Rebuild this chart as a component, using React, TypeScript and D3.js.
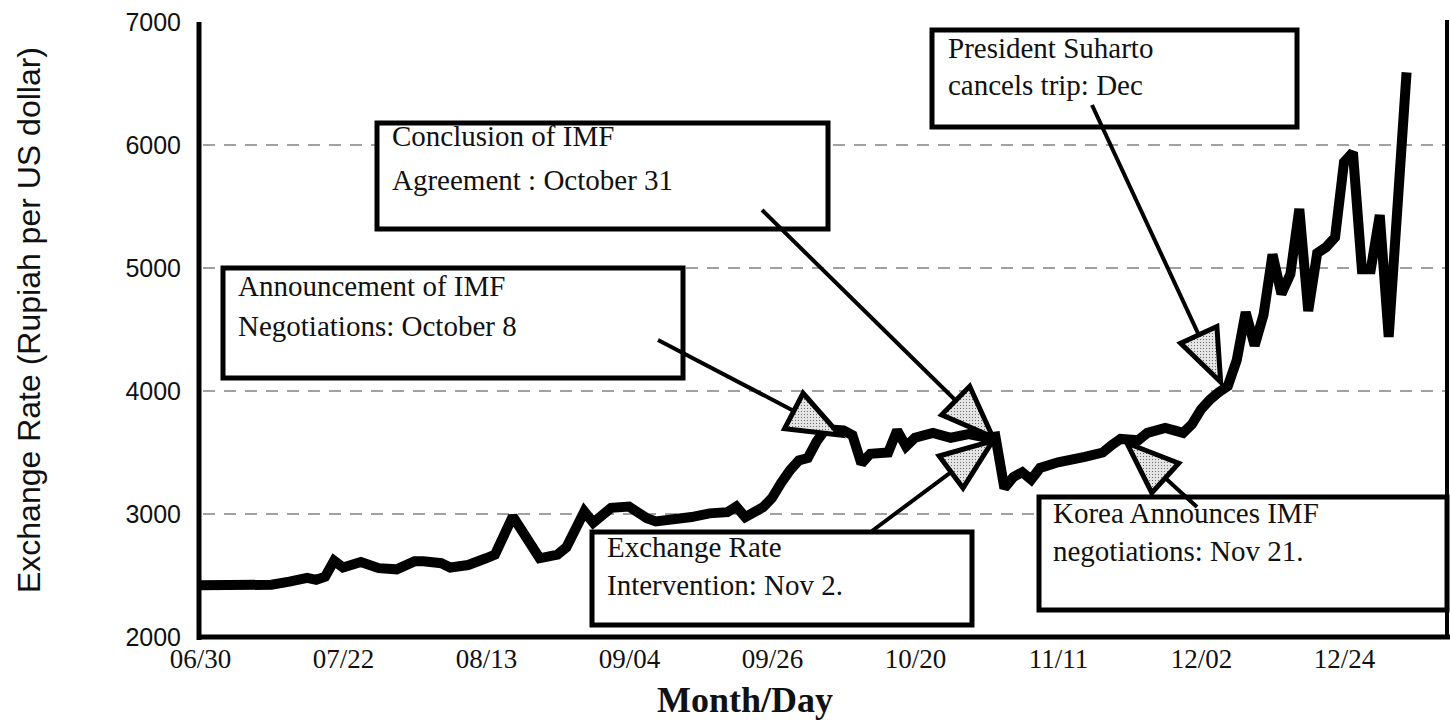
import React, { useEffect, useRef } from 'react';
import * as d3 from 'd3';

const width = 1450;
const height = 720;
const frame = { left: 200, right: 1447, top: 22, bottom: 637 };

// trading days counted from 06/30 (weekdays only), rupiah per US dollar
const tradingDay = [
  0, 8, 10, 12, 13, 14, 15, 16, 18, 20, 22, 24, 25, 27, 28, 30, 32, 33, 35, 38,
  40, 41, 43, 44, 46, 48, 50, 51, 55, 57, 59, 60, 61, 63, 64, 65, 66, 67, 68, 69,
  70, 72, 73, 74, 75, 77, 78, 79, 80, 82, 84, 86, 88, 89, 90, 91, 92, 93, 94, 96,
  99, 101, 102, 103, 105, 106, 108, 109, 110, 111, 112, 113, 114, 115, 116, 117, 118, 119, 120, 121,
  122, 123, 124, 125, 126, 127, 128, 129, 130, 131, 132, 133, 135,
];
const rate = [
  2420, 2425, 2450, 2480, 2465, 2490, 2620, 2565, 2610, 2560, 2550, 2615, 2615, 2600, 2565, 2585, 2640, 2670, 2980, 2640,
  2670, 2730, 3020, 2930, 3050, 3060, 2965, 2940, 2975, 3005, 3015, 3060, 2975, 3055, 3130, 3250, 3355, 3435, 3455, 3590,
  3690, 3680, 3640, 3410, 3490, 3500, 3680, 3550, 3620, 3660, 3620, 3650, 3620, 3630, 3210, 3300, 3340, 3280, 3375, 3420,
  3465, 3500, 3560, 3610, 3600, 3660, 3700, 3680, 3660, 3730, 3850, 3930, 3990, 4040, 4250, 4640, 4370, 4620, 5110, 4790,
  4950, 5480, 4650, 5120, 5170, 5250, 5860, 5940, 4990, 4990, 5430, 4440, 6590,
];

const tickDays = [0, 16, 32, 48, 64, 80, 96, 112, 128];
const tickLabels = ['06/30', '07/22', '08/13', '09/04', '09/26', '10/20', '11/11', '12/02', '12/24'];
const yTicks = [2000, 3000, 4000, 5000, 6000, 7000];
const gridValues = [3000, 4000, 5000, 6000];

// events, and where their arrows point (trading day, rate)
const noteText = [
  ['Announcement of IMF', 'Negotiations: October 8'],
  ['Conclusion of IMF', 'Agreement : October 31'],
  ['Exchange Rate', 'Intervention: Nov 2.'],
  ['Korea Announces IMF', 'negotiations: Nov 21.'],
  ['President Suharto', 'cancels trip: Dec'],
];
const noteTipDay = [71.6, 88.7, 88.7, 103.7, 114.2];
const noteTipRate = [3642, 3626, 3594, 3577, 4073];

// box layout in pixels
const boxes = [
  { x: 223, y: 268, w: 460, h: 110, tx: 238, ty: [296, 336], tail: [658, 340] },
  { x: 377, y: 123, w: 451, h: 106, tx: 392, ty: [146, 190], tail: [762, 210] },
  { x: 592, y: 532, w: 380, h: 93, tx: 607, ty: [557, 595], tail: [872, 531] },
  { x: 1039, y: 497, w: 408, h: 113, tx: 1053, ty: [523, 561], tail: [1197, 507] },
  { x: 932, y: 30, w: 365, h: 97, tx: 948, ty: [58, 95], tail: [1092, 105] },
];

const serif = 'Liberation Serif, Times New Roman, serif';
const sans = 'Liberation Sans, Arial, sans-serif';

export default function App() {
  const ref = useRef(null);

  useEffect(() => {
    const svg = d3.select(ref.current);
    svg.selectAll('*').remove();

    const x = d3.scaleLinear().domain([0, 128]).range([frame.left, 1344]);
    const y = d3.scaleLinear().domain([2000, 7000]).range([frame.bottom, frame.top]);

    const defs = svg.append('defs');
    const pat = defs.append('pattern').attr('id', 'stipple')
      .attr('width', 3).attr('height', 3).attr('patternUnits', 'userSpaceOnUse');
    pat.append('rect').attr('width', 3).attr('height', 3).attr('fill', '#e4e4e4');
    pat.append('rect').attr('width', 1).attr('height', 1).attr('fill', '#6a6a6a');

    // dashed gridlines
    svg.append('g').selectAll('line')
      .data(gridValues)
      .enter().append('line')
      .attr('x1', frame.left + 3).attr('x2', frame.right)
      .attr('y1', d => y(d)).attr('y2', d => y(d))
      .attr('stroke', '#444').attr('stroke-width', 1.2)
      .attr('stroke-dasharray', '12 9');

    // the exchange-rate line
    const pts = tradingDay.map((d, i) => [d, rate[i]]);
    const line = d3.line().x(d => x(d[0])).y(d => y(d[1]));
    svg.append('path')
      .attr('d', line(pts))
      .attr('fill', 'none').attr('stroke', '#000').attr('stroke-width', 10)
      .attr('stroke-linejoin', 'miter').attr('stroke-miterlimit', 2);

    // frame
    svg.append('line').attr('x1', 199).attr('x2', 199).attr('y1', frame.top).attr('y2', frame.bottom + 3)
      .attr('stroke', '#000').attr('stroke-width', 5);
    svg.append('line').attr('x1', 197).attr('x2', width).attr('y1', frame.bottom).attr('y2', frame.bottom)
      .attr('stroke', '#000').attr('stroke-width', 5);
    svg.append('line').attr('x1', frame.right).attr('x2', frame.right).attr('y1', 20).attr('y2', frame.bottom)
      .attr('stroke', '#000').attr('stroke-width', 4);

    // axes
    const yAxis = d3.axisLeft(y).tickValues(yTicks).tickFormat(d3.format('d')).tickSize(0).tickPadding(19);
    const gy = svg.append('g').attr('transform', `translate(${frame.left}, 0)`).call(yAxis);
    gy.select('.domain').remove();
    gy.selectAll('text').attr('font-family', sans).attr('font-size', 25).attr('fill', '#111');

    const xAxis = d3.axisBottom(x).tickValues(tickDays).tickFormat((d, i) => tickLabels[i]).tickSize(0).tickPadding(12);
    const gx = svg.append('g').attr('transform', `translate(0, ${frame.bottom})`).call(xAxis);
    gx.select('.domain').remove();
    gx.selectAll('text').attr('font-family', serif).attr('font-size', 27).attr('fill', '#111');

    svg.append('text')
      .attr('transform', 'translate(40, 320) rotate(-90)')
      .attr('text-anchor', 'middle')
      .attr('font-family', sans).attr('font-size', 32).attr('fill', '#111')
      .text('Exchange Rate (Rupiah per US dollar)');

    svg.append('text')
      .attr('x', 745).attr('y', 712)
      .attr('text-anchor', 'middle')
      .attr('font-family', serif).attr('font-size', 36).attr('font-weight', 'bold').attr('fill', '#111')
      .text('Month/Day');

    // annotation boxes
    boxes.forEach((b, i) => {
      const g = svg.append('g');
      g.append('rect').attr('x', b.x).attr('y', b.y).attr('width', b.w).attr('height', b.h)
        .attr('fill', '#fff').attr('stroke', '#000').attr('stroke-width', 5);
      noteText[i].forEach((t, j) => {
        g.append('text').attr('x', b.tx).attr('y', b.ty[j])
          .attr('font-family', serif).attr('font-size', 29).attr('fill', '#111')
          .text(t);
      });
    });

    // arrows
    boxes.forEach((b, i) => {
      const tip = [x(noteTipDay[i]), y(noteTipRate[i])];
      const dx = tip[0] - b.tail[0];
      const dy = tip[1] - b.tail[1];
      const len = Math.hypot(dx, dy);
      const ux = dx / len, uy = dy / len;
      const headLen = 52, half = 20;
      const base = [tip[0] - ux * headLen, tip[1] - uy * headLen];
      svg.append('line')
        .attr('x1', b.tail[0]).attr('y1', b.tail[1]).attr('x2', base[0]).attr('y2', base[1])
        .attr('stroke', '#000').attr('stroke-width', 4);
      const tri = [
        tip,
        [base[0] - uy * half, base[1] + ux * half],
        [base[0] + uy * half, base[1] - ux * half],
      ];
      svg.append('path')
        .attr('d', 'M' + tri.map(p => p.join(',')).join('L') + 'Z')
        .attr('fill', 'url(#stipple)').attr('stroke', '#000').attr('stroke-width', 5)
        .attr('stroke-linejoin', 'miter');
    });
  }, []);

  return (
    <svg ref={ref} width={width} height={height}
      style={{ position: 'absolute', left: 0, top: 0, background: '#fff' }} />
  );
}
